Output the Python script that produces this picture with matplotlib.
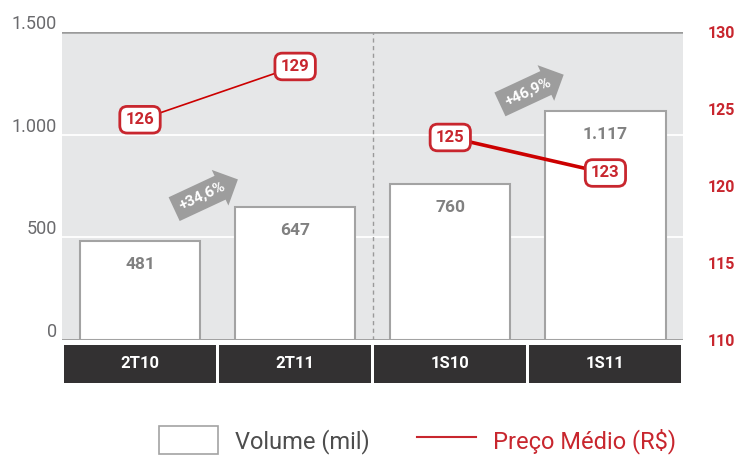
import matplotlib.pyplot as plt
from matplotlib.patches import Rectangle
from matplotlib.transforms import ScaledTranslation, blended_transform_factory

plt.rcParams['font.family'] = ['Roboto', 'DejaVu Sans']

# data
categories = ['2T10', '2T11', '1S10', '1S11']
volume = [481, 647, 760, 1117]
price = [126, 129, 125, 123]
growth_labels = ['+34,6%', '+46,9%']
left_ticks = [0, 500, 1000, 1500]
right_ticks = [110, 115, 120, 125, 130]

RED = '#c8262e'
LINE_RED = '#cc0000'
GRAY_TXT = '#808080'


def br(n):
    return f'{n:,}'.replace(',', '.')


fig = plt.figure(figsize=(7.39, 4.55), dpi=100)
ax = fig.add_axes([0.0845, 0.253, 0.8397, 0.677])
ax.set_facecolor('#e6e7e8')
x = range(len(categories))

ax.bar(x, volume, width=0.775, color='white', edgecolor='#a3a3a3', linewidth=1.5, zorder=3)
for i, v in enumerate(volume):
    ax.annotate(br(v), (i, v), xytext=(0, -17), textcoords='offset points',
                ha='center', va='center', fontsize=12.5, fontweight='bold', color=GRAY_TXT, zorder=4)

ax.set_xlim(-0.5, 3.5)
ax.set_ylim(0, 1500)
ax.set_yticks(left_ticks)
ax.set_yticklabels([br(t) for t in left_ticks], fontsize=13, color='#6a6a6d')
ax.tick_params(axis='y', length=0, pad=4)
for lab in ax.get_yticklabels():
    lab.set_transform(lab.get_transform() + ScaledTranslation(0, 7 / 72, fig.dpi_scale_trans))
ax.set_xticks([])
for s in ax.spines.values():
    s.set_visible(False)
for t in (500, 1000):
    ax.axhline(t, color='white', lw=1.3, zorder=1)
ax.axhline(1500, color='#9a9a9a', lw=1.8, zorder=2)
ax.axhline(0, color='#9a9a9a', lw=2, zorder=2)
ax.axvline(1.5, color='#9a9a9a', lw=1, ls=(0, (3, 2.5)), zorder=2)

# category boxes under the axis
tr = blended_transform_factory(ax.transData, ax.transAxes)
for i, c in enumerate(categories):
    ax.add_patch(Rectangle((i - 0.49, -0.14), 0.98, 0.123, transform=tr,
                           facecolor='#333132', edgecolor='none', clip_on=False))
    ax.text(i, -0.078, c, transform=tr, ha='center', va='center',
            color='white', fontsize=12, fontweight='bold')

# growth arrows
arrow_pos = [(0.40, 700), (2.50, 1210)]
for (ax_x, ax_y), g in zip(arrow_pos, growth_labels):
    ax.text(ax_x, ax_y, g, rotation=25, ha='center', va='center', color='white',
            fontsize=11, fontweight='bold', zorder=5, rotation_mode='anchor',
            bbox=dict(boxstyle='rarrow,pad=0.4', fc='#9d9d9d', ec='none'))

# right axis ticks
ax2 = ax.twinx()
ax2.set_ylim(110, 130)
ax2.set_yticks(right_ticks)
ax2.set_yticklabels([str(t) for t in right_ticks], color=RED, fontsize=11.5, fontweight='bold')
ax2.tick_params(axis='y', length=0, pad=18)
for s in ax2.spines.values():
    s.set_visible(False)

# price line
ax3 = ax.twinx()
ax3.set_ylim(113.6, 130.95)
ax3.axis('off')
ax3.plot(x[0:2], price[0:2], color=LINE_RED, lw=1.2, zorder=3)
ax3.plot(x[2:4], price[2:4], color=LINE_RED, lw=2.6, zorder=3)
for i, p in enumerate(price):
    ax3.text(i, p, str(p), ha='center', va='center', color=RED, fontsize=12,
             fontweight='bold', zorder=6,
             bbox=dict(boxstyle='round,pad=0.35,rounding_size=0.45', fc='white', ec=RED, lw=2))

# legend
h1 = Rectangle((0, 0), 1, 1, facecolor='white', edgecolor='#a3a3a3', lw=1.2)
h2, = ax3.plot([], [], color=RED, lw=1.5)
leg = fig.legend([h1, h2], ['Volume (mil)', 'Preço Médio (R$)'], loc='lower center',
                 bbox_to_anchor=(0.565, -0.045), ncol=2, frameon=False, fontsize=17,
                 handlelength=2.5, handleheight=1.45, columnspacing=2.0, handletextpad=0.7)
leg.get_texts()[0].set_color('#4d4d4d')
leg.get_texts()[1].set_color(RED)

fig.savefig('out.png', dpi=100)
